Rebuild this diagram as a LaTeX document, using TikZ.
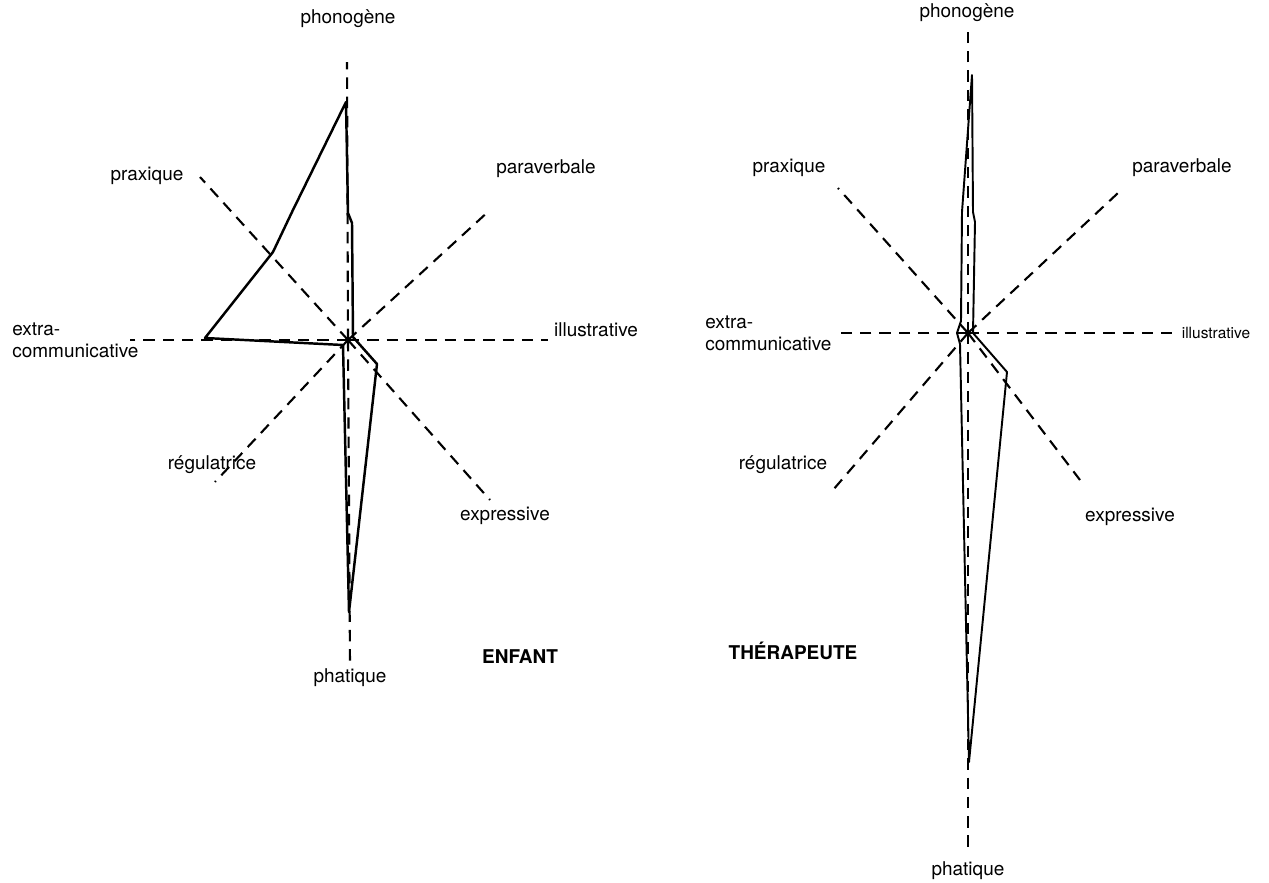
\documentclass[tikz,border=0pt]{standalone}
\usepackage{fontspec}
\setmainfont{TeX Gyre Heros}
\begin{document}
\begin{tikzpicture}[x=0.02cm, y=-0.02cm,
    lab/.style={inner sep=0pt, font=\fontsize{10.8}{12.5}\selectfont},
    axe/.style={line width=1.2pt, dash pattern=on 6.5pt off 4.5pt},
    courbe/.style={line width=1.4pt, line join=round}]
    \useasboundingbox (0,0) rectangle (1269,883);

    % 1. Axes de l'enfant
    \coordinate (O1) at (348,340);
    \coordinate (n1) at (347,62);   \coordinate (s1) at (350,665);
    \coordinate (e1) at (548,340);  \coordinate (w1) at (130,340);
    \coordinate (nw1) at (200,177); \coordinate (se1) at (490,500);
    \coordinate (ne1) at (490,210); \coordinate (sw1) at (215,482);
    \foreach \a in {n1,s1,e1,w1,nw1,se1,ne1,sw1}
        \draw[axe] (O1) -- (\a);

    % 2. Libellés de l'enfant
    \node[lab, anchor=base] (phono1) at (348,23) {phonogène};
    \node[lab, anchor=base] (prax1) at (147,180) {praxique};
    \node[lab, anchor=base] (para1) at (546,173) {paraverbale};
    \node[lab, anchor=west, align=left] (extra1) at (12,340) {extra-\\communicative};
    \node[lab, anchor=base] (illu1) at (596,336) {illustrative};
    \node[lab, anchor=base] (regu1) at (212,469) {régulatrice};
    \node[lab, anchor=base] (expr1) at (505,520) {expressive};
    \node[lab, anchor=base] (phat1) at (350,682) {phatique};
    \node[lab, anchor=base, font=\fontsize{10.8}{12.5}\selectfont\bfseries] (enfant) at (520,663) {ENFANT};

    % 3. Profil de l'enfant
    \draw[courbe] (346,102) -- (348,213) -- (352,223) -- (353,337) -- (377,364)
        -- (349,612) -- (343,345) -- (205,338) -- (273,252) -- (292,212) -- cycle;

    % 4. Axes du thérapeute
    \coordinate (O2) at (968,333);
    \coordinate (n2) at (968,30);   \coordinate (s2) at (968,850);
    \coordinate (e2) at (1172,333); \coordinate (w2) at (840,333);
    \coordinate (nw2) at (838,188); \coordinate (se2) at (1080,480);
    \coordinate (ne2) at (1118,193); \coordinate (sw2) at (833,490);
    \foreach \a in {n2,s2,e2,w2,nw2,se2,ne2,sw2}
        \draw[axe] (O2) -- (\a);

    % 5. Libellés du thérapeute
    \node[lab, anchor=base] (phono2) at (967,17) {phonogène};
    \node[lab, anchor=base] (prax2) at (789,172) {praxique};
    \node[lab, anchor=base] (para2) at (1182,172) {paraverbale};
    \node[lab, anchor=west, align=left] (extra2) at (705,333) {extra-\\communicative};
    \node[lab, anchor=base, font=\fontsize{8.8}{10}\selectfont] (illu2) at (1216,338) {illustrative};
    \node[lab, anchor=base] (regu2) at (783,469) {régulatrice};
    \node[lab, anchor=base] (expr2) at (1130,521) {expressive};
    \node[lab, anchor=base] (phat2) at (968,875) {phatique};
    \node[lab, anchor=base, font=\fontsize{10.8}{12.5}\selectfont\bfseries] (therap) at (793,659) {THÉRAPEUTE};

    % 6. Profil du thérapeute
    \draw[courbe, line width=1.1pt] (972,75) -- (973,212) -- (975,222) -- (973,333) -- (1007,372)
        -- (969,762) -- (960,344) -- (957,333) -- (961,321) -- (962,212) -- cycle;
\end{tikzpicture}
\end{document}
